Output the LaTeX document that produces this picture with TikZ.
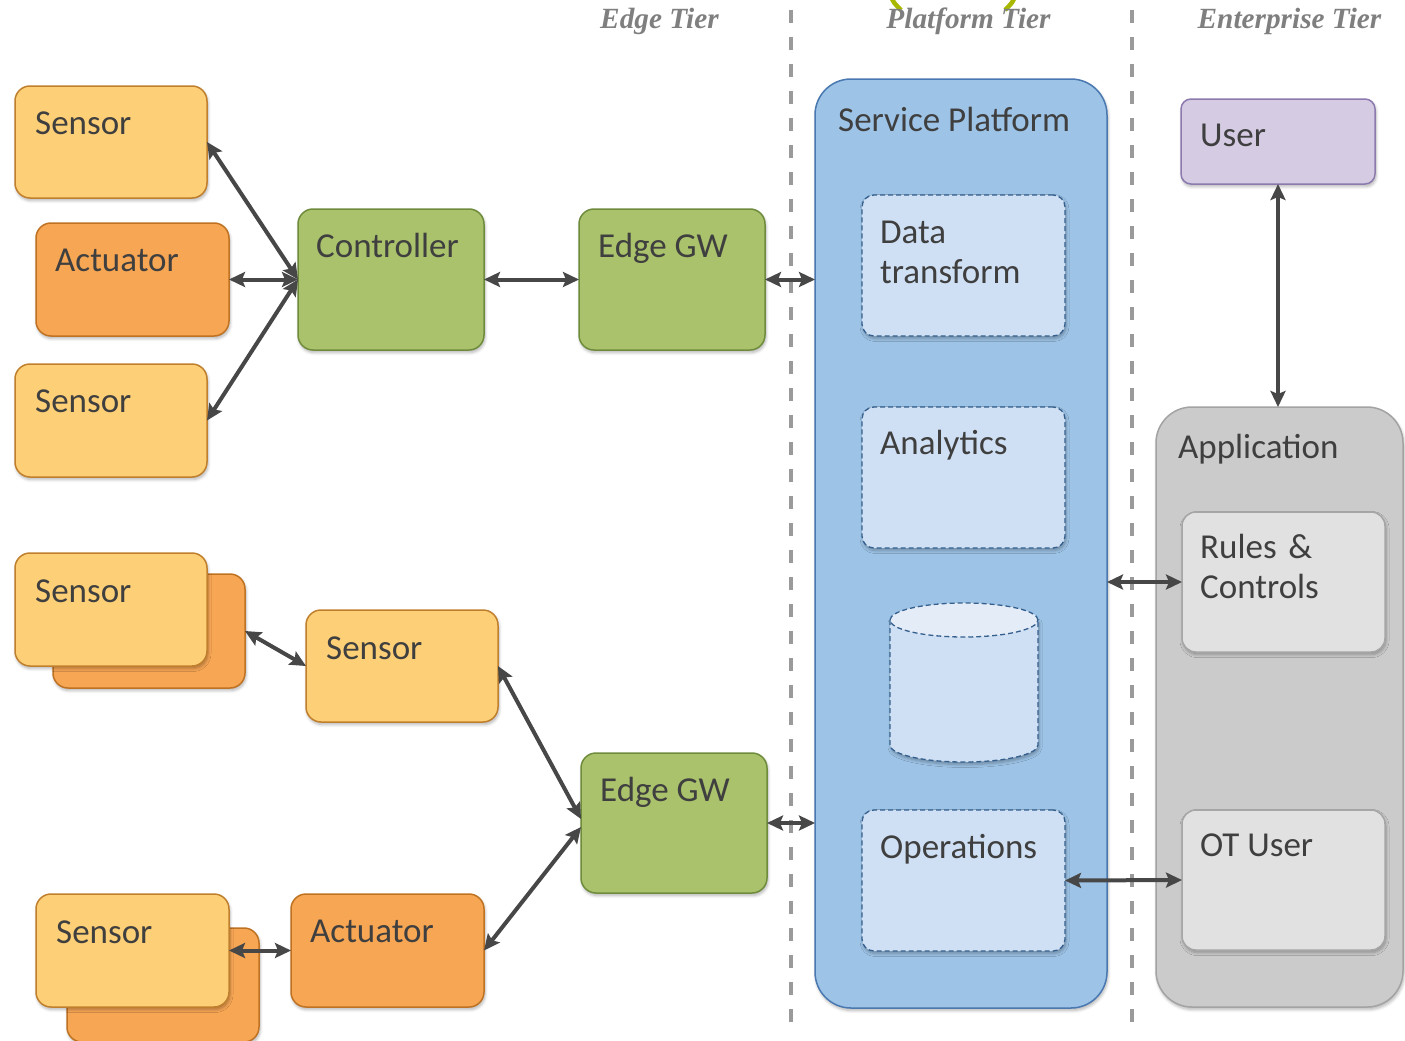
\documentclass[tikz,border=0pt]{standalone}
\usepackage{fontspec}
\setmainfont{Carlito}
\newfontfamily\tierfont{Liberation Serif}
\usetikzlibrary{arrows.meta,shadows.blur,calc}
\definecolor{sensorfill}{HTML}{FDD077}
\definecolor{sensordraw}{HTML}{C07F2C}
\definecolor{actfill}{HTML}{F7A654}
\definecolor{actdraw}{HTML}{BF7222}
\definecolor{greenfill}{HTML}{A9C26B}
\definecolor{greendraw}{HTML}{6F8C3C}
\definecolor{spfill}{HTML}{9DC3E6}
\definecolor{spdraw}{HTML}{4A78B0}
\definecolor{innerfill}{HTML}{CFE0F4}
\definecolor{innerdraw}{HTML}{35608E}
\definecolor{cyltop}{HTML}{E3ECF7}
\definecolor{userfill}{HTML}{D5CCE3}
\definecolor{userdraw}{HTML}{8C7AAE}
\definecolor{appfill}{HTML}{CBCBCB}
\definecolor{appdraw}{HTML}{A3A3A3}
\definecolor{greyfill}{HTML}{E1E1E1}
\definecolor{greydraw}{HTML}{A6A6A6}
\definecolor{divc}{HTML}{9A9A9A}
\definecolor{arrowc}{HTML}{474747}
\definecolor{txtc}{HTML}{3F3F3F}
\definecolor{tierc}{HTML}{7F7F7F}
\definecolor{arcc}{HTML}{A8B800}
\begin{document}
\begin{tikzpicture}[x=1pt,y=-1pt,
  box/.style={rectangle, rounded corners=15pt, line width=1.5pt, outer sep=0pt, inner sep=0pt, anchor=north west,
    blur shadow={shadow xshift=1pt, shadow yshift=-2.5pt, shadow blur radius=3pt, shadow blur steps=6, shadow opacity=30}},
  wh/.style 2 args={minimum width=#1pt, minimum height=#2pt},
  sensorbox/.style={box, fill=sensorfill, draw=sensordraw},
  actbox/.style={box, fill=actfill, draw=actdraw},
  greenbox/.style={box, fill=greenfill, draw=greendraw},
  spbox/.style={box, rounded corners=36pt, fill=spfill, draw=spdraw},
  innerbox/.style={box, rounded corners=12pt, fill=innerfill, draw=innerdraw, line width=1.3pt, dash pattern=on 5pt off 3pt},
  userbox/.style={box, rounded corners=10pt, fill=userfill, draw=userdraw},
  appbox/.style={box, rounded corners=36pt, fill=appfill, draw=appdraw},
  greybox/.style={box, rounded corners=14pt, fill=greyfill, draw=greydraw},
  lbl/.style={anchor=base west, inner sep=0pt, text=txtc, font=\fontsize{35}{40}\selectfont},
  lbl2/.style={lbl, text width=220pt, align=left},
  tier/.style={anchor=base, inner sep=0pt, text=tierc, font=\tierfont\bfseries\itshape\fontsize{29.3}{32}\selectfont},
  divider/.style={draw=divc, line width=3.8pt, dash pattern=on 13pt off 14pt},
  conn/.style={draw=arrowc, line width=4pt, {Stealth[length=16pt,width=15pt,inset=3pt]}-{Stealth[length=16pt,width=15pt,inset=3pt]}},
]
\useasboundingbox (0,0) rectangle (1405,1041);

% decorative arc at top
\draw[draw=arcc, line width=4.5pt] (891,-3) .. controls (894,3) .. (901,10);
\draw[draw=arcc, line width=4.5pt] (1015,-3) .. controls (1012,3) .. (1005,10);

% tier titles
\node[tier] (t1) at (659.5,29) {Edge Tier};
\node[tier] (t2) at (968.5,29) {Platform Tier};
\node[tier] (t3) at (1289.5,29) {Enterprise Tier};

% dividers
\draw[divider] (791,10) -- (791,1036);
\draw[divider] (1132,10) -- (1132,1036);

% top-left group
\node[sensorbox, wh={192}{112}] (s1) at (15,86) {};
\node[lbl] (s1t) at ([shift={(20,48)}]s1.north west) {Sensor};
\node[actbox, wh={193}{113}] (a1) at (36,223) {};
\node[lbl] (a1t) at ([shift={(19,48)}]a1.north west) {Actuator};
\node[sensorbox, wh={192}{113}] (s2) at (15,364) {};
\node[lbl] (s2t) at ([shift={(20,48)}]s2.north west) {Sensor};
\node[greenbox, wh={186}{141}] (ctrl) at (298,209) {};
\node[lbl] (ctrlt) at ([shift={(18,48)}]ctrl.north west) {Controller};
\node[greenbox, wh={186}{141}] (gw1) at (579,209) {};
\node[lbl] (gw1t) at ([shift={(19,48)}]gw1.north west) {Edge GW};

% service platform
\node[spbox, wh={292}{929}] (sp) at (815,79) {};
\node[lbl] (spt) at ([shift={(23,52)}]sp.north west) {Service Platform};
\node[innerbox, wh={203}{141}] (dt) at (862,195) {};
\node[lbl2] (dtt) at ([shift={(18,48)}]dt.north west) {Data\\transform};
\node[innerbox, wh={203}{141}] (an) at (862,407) {};
\node[lbl] (ant) at ([shift={(18,47)}]an.north west) {Analytics};
\node[innerbox, wh={203}{141}] (ops) at (862,810) {};
\node[lbl] (opst) at ([shift={(18,48)}]ops.north west) {Operations};

% cylinder
\fill[innerfill, blur shadow={shadow xshift=1pt, shadow yshift=-2.5pt, shadow blur radius=3pt, shadow blur steps=6, shadow opacity=30}]
  (890,620) -- (890,745) arc[start angle=180, end angle=360, x radius=74pt, y radius=17pt] -- (1038,620) -- cycle;
\fill[cyltop] (964,620) ellipse [x radius=74pt, y radius=17pt];
\draw[draw=innerdraw, line width=1.3pt, dash pattern=on 5pt off 3pt]
  (890,620) -- (890,745) arc[start angle=180, end angle=360, x radius=74pt, y radius=17pt] -- (1038,620);
\draw[draw=innerdraw, line width=1.3pt, dash pattern=on 5pt off 3pt] (964,620) ellipse [x radius=74pt, y radius=17pt];

% enterprise tier
\node[userbox, wh={194}{85}] (user) at (1181,99) {};
\node[lbl] (usert) at ([shift={(19,47)}]user.north west) {User};
\node[appbox, wh={247}{600}] (app) at (1156,407) {};
\node[lbl] (appt) at ([shift={(22,51)}]app.north west) {Application};
\node[greybox, wh={203}{140}] (rc) at (1182,512) {};
\node[lbl2] (rct) at ([shift={(18,46)}]rc.north west) {Rules~\&\\Controls};
\node[greybox, wh={203}{140}] (ot) at (1182,810) {};
\node[lbl] (ott) at ([shift={(18,46)}]ot.north west) {OT User};

% bottom-left group
\node[actbox, wh={192}{114}] (sb1) at (53,574) {};
\node[sensorbox, wh={192}{113}] (sf1) at (15,553) {};
\node[lbl] (sf1t) at ([shift={(20,49)}]sf1.north west) {Sensor};
\node[sensorbox, wh={192}{112}] (sm) at (306,610) {};
\node[lbl] (smt) at ([shift={(20,49)}]sm.north west) {Sensor};
\node[greenbox, wh={186}{140}] (gw2) at (581,753) {};
\node[lbl] (gw2t) at ([shift={(19,48)}]gw2.north west) {Edge GW};
\node[actbox, wh={192}{114}] (sb2) at (67,928) {};
\node[sensorbox, wh={193}{113}] (sf2) at (36,894) {};
\node[lbl] (sf2t) at ([shift={(20,49)}]sf2.north west) {Sensor};
\node[actbox, wh={193}{113}] (a2) at (291,894) {};
\node[lbl] (a2t) at ([shift={(19,48)}]a2.north west) {Actuator};

% connectors
\draw[conn] (s1.east) -- (ctrl.west);
\draw[conn] (a1.east) -- (ctrl.west);
\draw[conn] (s2.east) -- (ctrl.west);
\draw[conn] (ctrl.east) -- (gw1.west);
\draw[conn] (gw1.east) -- (sp.west |- gw1.east);
\draw[conn] (sb1.east) -- (sm.west);
\draw[conn] (sm.east) -- ([yshift=4pt]gw2.west);
\draw[conn] (a2.east) -- ([yshift=-4pt]gw2.west);
\draw[conn] (sf2.east) -- (a2.west);
\draw[conn] (gw2.east) -- (sp.west |- gw2.east);
\draw[conn] (sp.east |- rc.west) -- (rc.west);
\draw[conn] (ops.east) -- (ot.west);
\draw[conn] (user.south) -- (user.south |- app.north);
\end{tikzpicture}
\end{document}
